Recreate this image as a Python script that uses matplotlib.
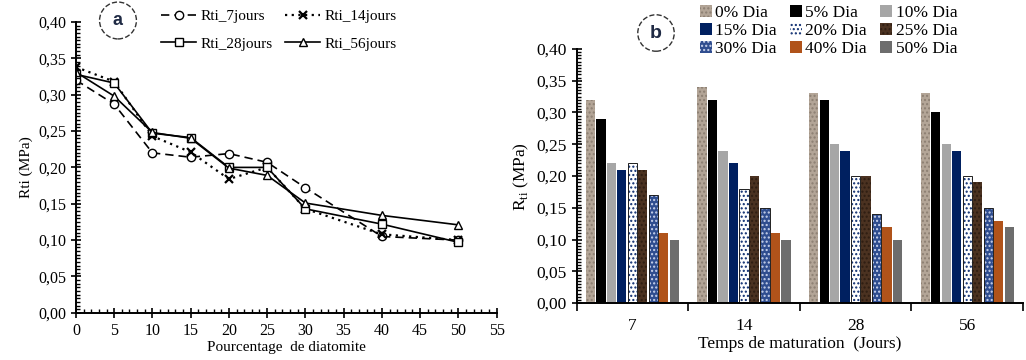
import numpy as np
import matplotlib
matplotlib.use("Agg")
import matplotlib.pyplot as plt
from matplotlib.ticker import FuncFormatter, MultipleLocator, FixedLocator

plt.rcParams['font.family'] = ['Liberation Serif', 'DejaVu Serif']
plt.rcParams['hatch.linewidth'] = 1.0

# Panel a data
diato = [0, 5, 10, 15, 20, 25, 30, 40, 50]
rti_7 = [0.320, 0.287, 0.220, 0.214, 0.219, 0.207, 0.172, 0.105, 0.100]
rti_14 = [0.338, 0.318, 0.243, 0.221, 0.184, 0.200, 0.143, 0.108, 0.100]
rti_28 = [0.328, 0.316, 0.247, 0.241, 0.200, 0.200, 0.143, 0.122, 0.097]
rti_56 = [0.331, 0.298, 0.248, 0.240, 0.199, 0.189, 0.151, 0.134, 0.121]

# Panel b data
jours = ['7', '14', '28', '56']
dia_labels = ['0% Dia', '5% Dia', '10% Dia', '15% Dia', '20% Dia',
              '25% Dia', '30% Dia', '40% Dia', '50% Dia']
bars = [
    [0.32, 0.34, 0.33, 0.33],
    [0.29, 0.32, 0.32, 0.30],
    [0.22, 0.24, 0.25, 0.25],
    [0.21, 0.22, 0.24, 0.24],
    [0.22, 0.18, 0.20, 0.20],
    [0.21, 0.20, 0.20, 0.19],
    [0.17, 0.15, 0.14, 0.15],
    [0.11, 0.11, 0.12, 0.13],
    [0.10, 0.10, 0.10, 0.12],
]

comma = FuncFormatter(lambda v, p: f"{v:.2f}".replace('.', ','))

fig = plt.figure(figsize=(10.26, 3.6), dpi=100)

# ---- panel a
ax = fig.add_axes([0.074, 0.131, 0.410, 0.808])
l7, = ax.plot(diato, rti_7, color='black', lw=1.2, ls=(0, (5, 3)), marker='o',
              ms=6, mfc='white', mec='black', label='Rti_7jours')
l14, = ax.plot(diato, rti_14, color='black', lw=1.6, ls=(0, (1, 2)), marker='x',
               ms=6, mew=1.6, label='Rti_14jours')
l28, = ax.plot(diato, rti_28, color='black', lw=1.2, ls='-', marker='s',
               ms=6, mfc='white', mec='black', label='Rti_28jours')
l56, = ax.plot(diato, rti_56, color='black', lw=1.2, ls='-', marker='^',
               ms=6, mfc='white', mec='black', label='Rti_56jours')
ax.set_xlim(0, 55)
ax.set_ylim(0, 0.40)
ax.xaxis.set_major_locator(MultipleLocator(5))
ax.xaxis.set_minor_locator(MultipleLocator(1))
ax.yaxis.set_major_locator(MultipleLocator(0.05))
ax.yaxis.set_minor_locator(MultipleLocator(0.005))
ax.yaxis.set_major_formatter(comma)
ax.tick_params(which='major', direction='inout', length=7, width=1.2, labelsize=11.5)
ax.tick_params(which='minor', direction='in', length=3, width=1)
for s in ['top', 'right']:
    ax.spines[s].set_visible(False)
for s in ['left', 'bottom']:
    ax.spines[s].set_linewidth(1.4)
ax.set_ylabel('Rti (MPa)', fontsize=11)
ax.set_xlabel('Pourcentage  de diatomite', fontsize=11, labelpad=2)
ax.legend([l7, l28, l14, l56], ['Rti_7jours', 'Rti_28jours', 'Rti_14jours', 'Rti_56jours'],
          ncol=2, loc='upper left', bbox_to_anchor=(0.17, 1.09), frameon=False,
          fontsize=11, handlelength=2.3, columnspacing=0.8, labelspacing=0.9,
          handletextpad=0.3)
ax.text(5.5, 0.402, 'a', fontsize=13, fontweight='bold', family='Liberation Sans',
        ha='center', va='center', color='#1f2a44', clip_on=False,
        bbox=dict(boxstyle='circle,pad=0.55', fc='white', ec='#333333', ls='--', lw=1))

# ---- panel b
bx = fig.add_axes([0.562, 0.158, 0.435, 0.706])
faces = ['#b3a597', '#000000', '#a6a6a6', '#002060', 'white',
         '#4b3221', '#2f4d8f', '#b0531a', '#6d6d6d']
hatches = ['....', None, None, None, '....', '....', '....', None, None]
hcolors = ['#8c7f72', 'black', 'black', 'black', '#0a2a6e', '#2e1d12',
           '#c9d3ec', 'black', 'black']
n = len(bars)
slot = 0.094
width = 0.082
xc = np.arange(len(jours))
handles = []
for i in range(n):
    xs = xc + (i - (n - 1) / 2) * slot
    h = bx.bar(xs, bars[i], width, color=faces[i], label=dia_labels[i],
               edgecolor=hcolors[i], linewidth=0, hatch=hatches[i])
    handles.append(h)
    if i in (4, 6):
        bx.bar(xs, bars[i], width, fill=False, edgecolor='#202020', linewidth=0.7)
bx.set_xlim(-0.5, 3.5)
bx.set_ylim(0, 0.40)
bx.yaxis.set_major_locator(MultipleLocator(0.05))
bx.yaxis.set_minor_locator(MultipleLocator(0.005))
bx.yaxis.set_major_formatter(comma)
bx.xaxis.set_major_locator(FixedLocator([-0.5, 0.5, 1.5, 2.5, 3.5]))
bx.xaxis.set_major_formatter(FuncFormatter(lambda v, p: ''))
bx.xaxis.set_minor_locator(FixedLocator(xc))
bx.set_xticklabels(jours, minor=True)
bx.tick_params(axis='x', which='major', direction='out', length=6, width=1.2)
bx.tick_params(axis='x', which='minor', length=0, labelsize=12.5, pad=11)
bx.tick_params(axis='y', which='major', direction='inout', length=7, width=1.2, labelsize=12.5)
bx.tick_params(axis='y', which='minor', direction='in', length=3, width=1)
for s in ['top', 'right']:
    bx.spines[s].set_visible(False)
for s in ['left', 'bottom']:
    bx.spines[s].set_linewidth(1.4)
bx.set_ylabel('R$_{\\mathregular{ti}}$ (MPa)', fontsize=12.5)
bx.set_xlabel('Temps de maturation  (Jours)', fontsize=12.5, labelpad=1)
# row-major ordering for a 3-column legend
order = [0, 3, 6, 1, 4, 7, 2, 5, 8]
fig.legend([handles[k] for k in order], [dia_labels[k] for k in order],
           ncol=3, loc='upper left', bbox_to_anchor=(0.67, 1.02), frameon=False,
           fontsize=12.5, handlelength=0.7, handleheight=0.7, columnspacing=0.75,
           labelspacing=0.1, handletextpad=0.2, borderpad=0.2)
fig.text(656 / 1026, 1 - 33 / 360, 'b', fontsize=14, fontweight='bold',
         family='Liberation Sans', ha='center', va='center', color='#1f2a44',
         bbox=dict(boxstyle='circle,pad=0.5', fc='white', ec='#333333', ls='--', lw=1))

fig.savefig('out.png', dpi=100)
